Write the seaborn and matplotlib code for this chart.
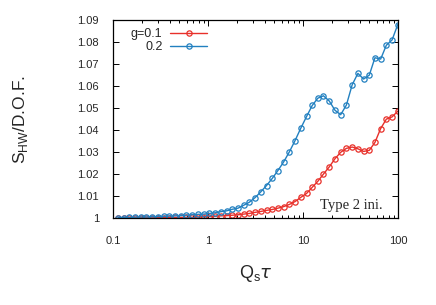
import numpy as np
import pandas as pd
import seaborn as sns
import matplotlib.pyplot as plt
from matplotlib.ticker import LogLocator, FixedLocator, FixedFormatter, NullFormatter

# Q_s tau sample points (log spaced)
tau = [0.113, 0.130, 0.149, 0.171, 0.196, 0.225, 0.259, 0.298, 0.342, 0.393,
       0.451, 0.518, 0.594, 0.682, 0.783, 0.900, 1.035, 1.19, 1.36, 1.57,
       1.80, 2.07, 2.37, 2.72, 3.13, 3.59, 4.13, 4.74, 5.44, 6.25,
       7.18, 8.24, 9.46, 10.9, 12.5, 14.3, 16.4, 18.9, 21.7, 24.9,
       28.6, 32.9, 37.8, 43.4, 49.8, 57.1, 65.6, 75.3, 86.5, 99.3]

# S_HW / D.O.F. for g = 0.1
s_g01 = [1.0000, 1.0000, 1.0000, 1.0001, 1.0001, 1.0001, 1.0001, 1.0002, 1.0002, 1.0002,
         1.0003, 1.0003, 1.0004, 1.0004, 1.0005, 1.0006, 1.0007, 1.0008, 1.0010, 1.0011,
         1.0013, 1.0015, 1.0018, 1.0021, 1.0026, 1.0030, 1.0035, 1.0039, 1.0045, 1.0052,
         1.0062, 1.0075, 1.0094, 1.0112, 1.0140, 1.0167, 1.0200, 1.0233, 1.0270, 1.0299,
         1.0317, 1.0323, 1.0315, 1.0303, 1.0308, 1.0344, 1.0407, 1.0450, 1.0460, 1.0486]

# S_HW / D.O.F. for g = 0.2
s_g02 = [1.0002, 1.0002, 1.0003, 1.0004, 1.0005, 1.0005, 1.0006, 1.0007, 1.0008, 1.0009,
         1.0010, 1.0011, 1.0013, 1.0015, 1.0017, 1.0018, 1.0021, 1.0024, 1.0029, 1.0033,
         1.0040, 1.0045, 1.0058, 1.0072, 1.0093, 1.0119, 1.0148, 1.0180, 1.0216, 1.0255,
         1.0301, 1.0352, 1.0408, 1.0462, 1.0512, 1.0545, 1.0556, 1.0532, 1.0490, 1.0470,
         1.0514, 1.0606, 1.0658, 1.0632, 1.0650, 1.0729, 1.0723, 1.0786, 1.0810, 1.0880]

labels = ["g=0.1", "0.2"]
colors = ["#e8302a", "#2280c0"]

x_ticks = [0.1, 1, 10, 100]
x_ticklabels = ["0.1", "1", "10", "100"]
y_ticks = [1.00, 1.01, 1.02, 1.03, 1.04, 1.05, 1.06, 1.07, 1.08, 1.09]
y_ticklabels = ["1", "1.01", "1.02", "1.03", "1.04", "1.05", "1.06", "1.07", "1.08", "1.09"]

sns.set_style("ticks")
plt.rcParams["font.family"] = ["Liberation Sans", "DejaVu Sans"]
plt.rcParams["mathtext.fontset"] = "dejavusans"

fig = plt.figure(figsize=(4.36, 3.05), dpi=100)
ax = fig.add_axes([0.259, 0.285, 0.654, 0.649])

for s, lab, col in zip([s_g01, s_g02], labels, colors):
    df = pd.DataFrame({"tau": tau, "S": s})
    sns.lineplot(data=df, x="tau", y="S", ax=ax, color=col, label=lab,
                 marker="o", markersize=3.8, markerfacecolor="none",
                 markeredgecolor=col, markeredgewidth=0.9, linewidth=1.0)

ax.set_xscale("log")
ax.set_xlim(0.1, 100)
ax.set_ylim(1.0, 1.09)

ax.xaxis.set_major_locator(FixedLocator(x_ticks))
ax.xaxis.set_major_formatter(FixedFormatter(x_ticklabels))
ax.xaxis.set_minor_locator(LogLocator(base=10, subs=np.arange(2, 10)))
ax.xaxis.set_minor_formatter(NullFormatter())
ax.yaxis.set_major_locator(FixedLocator(y_ticks))
ax.yaxis.set_major_formatter(FixedFormatter(y_ticklabels))

for sp in ax.spines.values():
    sp.set_linewidth(0.9)
    sp.set_color("black")
ax.tick_params(which="both", direction="in", top=True, right=True, color="black", width=0.7)
ax.tick_params(which="major", length=4, labelsize=8)
ax.tick_params(which="minor", length=2.2)
ax.tick_params(axis="x", which="major", pad=13)
ax.tick_params(axis="y", which="major", pad=10)

ax.set_xlabel(r"Q$_\mathregular{s}\tau$", fontsize=13, labelpad=12)
ax.set_ylabel(r"S$_\mathregular{HW}$/D.O.F.", fontsize=12.5, labelpad=34)

leg = ax.legend(loc="upper left", frameon=False, markerfirst=False, fontsize=9,
                handlelength=3.0, handletextpad=0.6, labelspacing=0.1,
                borderaxespad=0.0, bbox_to_anchor=(0.045, 0.985))

ax.text(0.947, 0.045, "Type 2 ini.", transform=ax.transAxes, ha="right", va="baseline",
        fontsize=10.5, family="Liberation Serif")

fig.savefig("out.png", dpi=100)
